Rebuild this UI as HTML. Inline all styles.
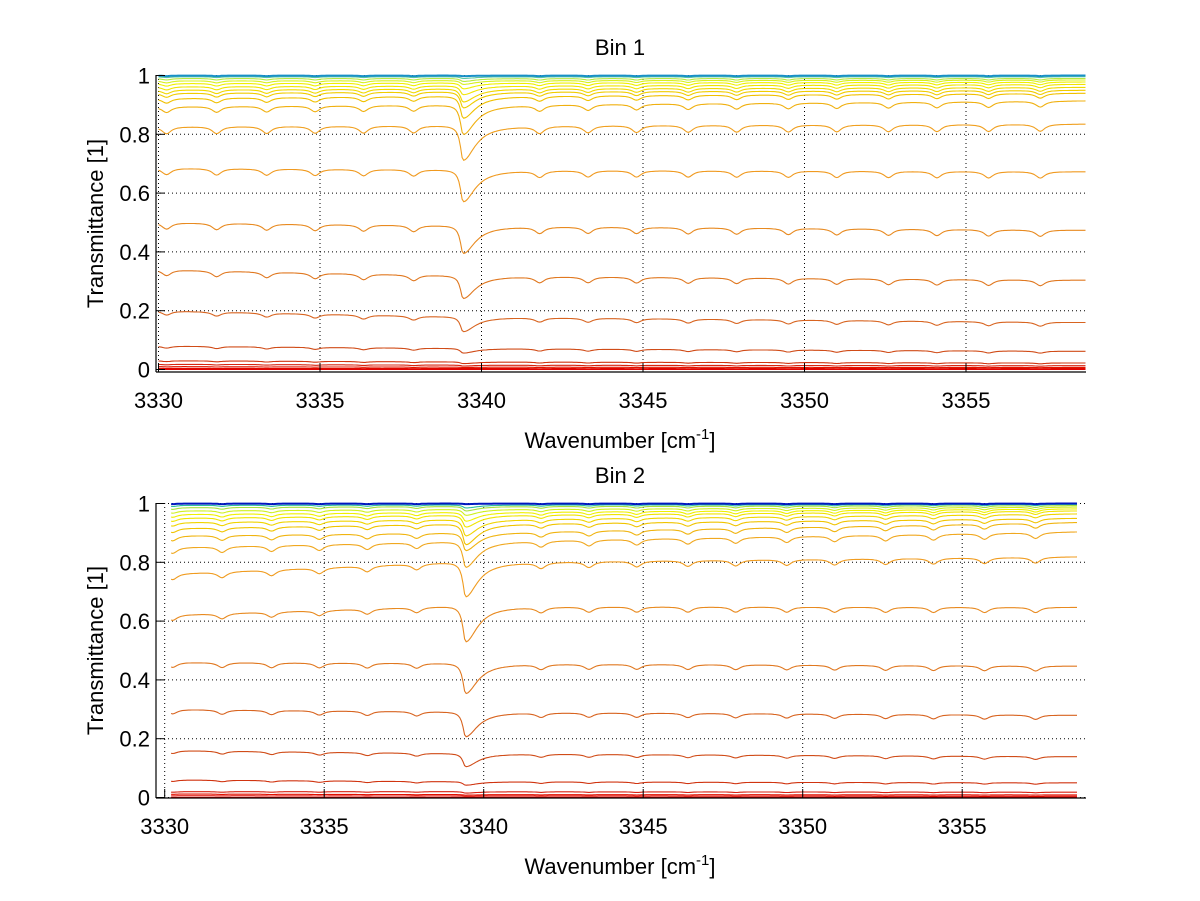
<!DOCTYPE html>
<html><head><meta charset="utf-8">
<style>
html,body{margin:0;padding:0;background:#fff;}
svg{display:block;font-family:"Liberation Sans",Arial,sans-serif;}
</style></head>
<body>
<svg id="fig" width="1200" height="901" viewBox="0 0 1200 901" xmlns="http://www.w3.org/2000/svg">
<rect x="0" y="0" width="1200" height="901" fill="#fff"/>
</svg>
<script>
// ---- shared data ----
var xTicks = [3330, 3335, 3340, 3345, 3350, 3355];
var yTicks = [0, 0.2, 0.4, 0.6, 0.8, 1];
var yTickLabels = ["0", "0.2", "0.4", "0.6", "0.8", "1"];
var mainLine = 3339.43;
var smallLines = [3330.25, 3331.8, 3333.35, 3334.85, 3336.35, 3337.9, 3341.8, 3343.3, 3344.8, 3346.4, 3347.9, 3349.5, 3351.0, 3352.6, 3354.1, 3355.7, 3357.3];

// ---- Bin 1 data (top to bottom curves) ----
var bin1Left  = [1.0, 0.996, 0.99, 0.982, 0.973, 0.962, 0.951, 0.94, 0.922, 0.894, 0.826, 0.685, 0.50, 0.34, 0.20, 0.08, 0.03, 0.018, 0.01, 0.004, 0.0];
var bin1Mid   = [1.0, 0.996, 0.99, 0.983, 0.975, 0.965, 0.955, 0.945, 0.93, 0.90, 0.83, 0.68, 0.49, 0.32, 0.18, 0.072, 0.026, 0.015, 0.008, 0.003, 0.0];
var bin1Right = [1.0, 0.996, 0.99, 0.985, 0.978, 0.97, 0.96, 0.95, 0.94, 0.914, 0.835, 0.673, 0.474, 0.304, 0.16, 0.062, 0.022, 0.013, 0.007, 0.003, 0.0];
var bin1DipMin = [0.998, 0.99, 0.98, 0.97, 0.955, 0.935, 0.91, 0.89, 0.855, 0.80, 0.712, 0.571, 0.395, 0.242, 0.129, 0.056, 0.02, 0.012, 0.007, 0.003, 0.0];
var bin1Small = [0.002, 0.003, 0.005, 0.007, 0.009, 0.011, 0.013, 0.014, 0.016, 0.02, 0.024, 0.022, 0.022, 0.02, 0.014, 0.007, 0.003, 0.002, 0.001, 0.0005, 0];
var bin1Colors = ['#1890c8','#60c8a0','#b8e840','#d8f020','#f0f000','#f0e400','#f0d800','#f0cc00','#f0c000','#f0b010','#f0a020','#f09a20','#e88a20','#e07820','#d86420','#d04c18','#d03410','#d82410','#e01400','#e00800','#e00000'];

// ---- Bin 2 data ----
var bin2Left  = [1.0, 0.994, 0.986, 0.975, 0.963, 0.95, 0.935, 0.915, 0.89, 0.85, 0.76, 0.62, 0.46, 0.30, 0.16, 0.06, 0.02, 0.012, 0.006, 0.0];
var bin2Mid   = [1.0, 0.995, 0.99, 0.98, 0.97, 0.96, 0.945, 0.93, 0.90, 0.87, 0.80, 0.651, 0.457, 0.292, 0.15, 0.054, 0.02, 0.01, 0.005, 0.0];
var bin2Right = [1.0, 0.997, 0.993, 0.988, 0.982, 0.975, 0.965, 0.95, 0.936, 0.904, 0.819, 0.647, 0.447, 0.28, 0.139, 0.05, 0.018, 0.009, 0.004, 0.0];
var bin2DipMin = [0.998, 0.985, 0.975, 0.96, 0.94, 0.92, 0.89, 0.86, 0.84, 0.783, 0.683, 0.53, 0.354, 0.207, 0.105, 0.042, 0.015, 0.008, 0.004, 0.0];
var bin2Small = [0.002, 0.004, 0.006, 0.008, 0.01, 0.011, 0.012, 0.014, 0.017, 0.02, 0.02, 0.018, 0.017, 0.015, 0.01, 0.005, 0.002, 0.001, 0.0005, 0];
var bin2Colors = ['#0018c0','#30c0a0','#a8e040','#d0f020','#f0f000','#f0e400','#f0d400','#f0c400','#f0b410','#f0a820','#f09c20','#e88a20','#e07820','#d86420','#d04c18','#d03410','#d82010','#e01000','#e00800','#e00000'];

var NS = "http://www.w3.org/2000/svg";
var svg = document.getElementById('fig');
function mk(tag, attrs, parent){ var e=document.createElementNS(NS,tag); for(var k in attrs) e.setAttribute(k,attrs[k]); (parent||svg).appendChild(e); return e; }

function drawPanel(cfg){
  var g = mk('g',{});
  
  
  function X(w){ return cfg.x0 + cfg.kx*(w-3330); }
  function Y(v){ return cfg.y0 - cfg.ky*v; }
  xTicks.forEach(function(t){
    var l = mk('line',{x1:X(t),x2:X(t),y1:cfg.top,y2:cfg.bottom,stroke:'#000','stroke-width':1,'stroke-dasharray':'1,3'},g);
    
    
  });
  yTicks.forEach(function(t){
    var l = mk('line',{x1:cfg.left,x2:cfg.right,y1:Y(t),y2:Y(t),stroke:'#000','stroke-width':1,'stroke-dasharray':'1,3'},g);
    
    
  });
  for (var i = cfg.L.length-1; i >= 0; i--){
    var d = '';
    var wm = 3339.0;
    function base(w){
      if (w <= wm) return cfg.L[i] + (cfg.M[i]-cfg.L[i])*(w-3330)/(wm-3330);
      return cfg.M[i] + (cfg.R[i]-cfg.M[i])*(w-wm)/(3358.8-wm);
    }
    var depth = Math.max(0, base(mainLine) - cfg.D[i]);
    for (var w = cfg.w0; w <= cfg.w1 + 1e-9; w += 0.05){
      var dw = w - mainLine;
      var pm = dw < 0 ? 1/(1+Math.pow(dw/0.1,2)) : 1/(1+Math.pow(dw/0.45,2));
      var ps = 0;
      smallLines.forEach(function(c){ ps += 1/(1+Math.pow((w-c)/0.17,2)); });
      var v = base(w) - depth*pm - cfg.S[i]*ps;
      d += (d ? 'L' : 'M') + X(w).toFixed(1) + ',' + Y(v).toFixed(1);
    }
    var p = mk('path',{d:d,fill:'none',stroke:cfg.C[i],'stroke-width':(i===0?2:1.1)},g);
    
    
  }
  var ax = mk('line',{x1:cfg.left,x2:cfg.left,y1:cfg.top,y2:cfg.bottom,stroke:'#000','stroke-width':1.2},g);
  
  
  var bx = mk('line',{x1:cfg.left,x2:cfg.right,y1:cfg.bottom,y2:cfg.bottom,stroke:'#000','stroke-width':1.2},g);
  
  
  xTicks.forEach(function(t){
    var tk = mk('line',{x1:X(t),x2:X(t),y1:cfg.bottom,y2:cfg.bottom-9,stroke:'#000','stroke-width':1},g);
    
    
    var tl = mk('text',{x:X(t),y:cfg.bottom+36,'text-anchor':'middle','font-size':22,fill:'#000'},g);
    tl.textContent = String(t);
    
    
  });
  yTicks.forEach(function(t,j){
    var tk = mk('line',{x1:cfg.left,x2:cfg.left+9,y1:Y(t),y2:Y(t),stroke:'#000','stroke-width':1},g);
    
    
    var tl = mk('text',{x:cfg.left-6,y:Y(t)+8,'text-anchor':'end','font-size':22,fill:'#000'},g);
    tl.textContent = yTickLabels[j];
    
    
  });
  var title = mk('text',{x:620,y:cfg.top-20,'text-anchor':'middle','font-size':22,fill:'#000'},g);
  title.textContent = cfg.title;
  
  
  var yl = mk('text',{x:0,y:0,'text-anchor':'middle','font-size':22,fill:'#000',transform:'translate(103,'+((cfg.top+cfg.bottom)/2)+') rotate(-90)'},g);
  yl.textContent = 'Transmittance [1]';
  
  
  var xl = mk('text',{x:620,y:cfg.bottom+76,'text-anchor':'middle','font-size':22,fill:'#000'},g);
  xl.appendChild(document.createTextNode('Wavenumber [cm'));
  var sup = mk('tspan',{dy:-9,'font-size':15},xl); sup.textContent='-1';
  var rb = mk('tspan',{dy:9},xl); rb.textContent=']';
  
  
}

drawPanel({name:'bin-1-panel', title:'Bin 1', x0:158.5, kx:32.3, y0:369.5, ky:294,
  left:156, right:1086, top:75, bottom:372, w0:3330.0, w1:3358.7,
  L:bin1Left, M:bin1Mid, R:bin1Right, D:bin1DipMin, S:bin1Small, C:bin1Colors});
drawPanel({name:'bin-2-panel', title:'Bin 2', x0:164.7, kx:31.9, y0:797.5, ky:294,
  left:156, right:1086, top:503, bottom:798, w0:3330.2, w1:3358.6,
  L:bin2Left, M:bin2Mid, R:bin2Right, D:bin2DipMin, S:bin2Small, C:bin2Colors});
</script>
</body></html>
